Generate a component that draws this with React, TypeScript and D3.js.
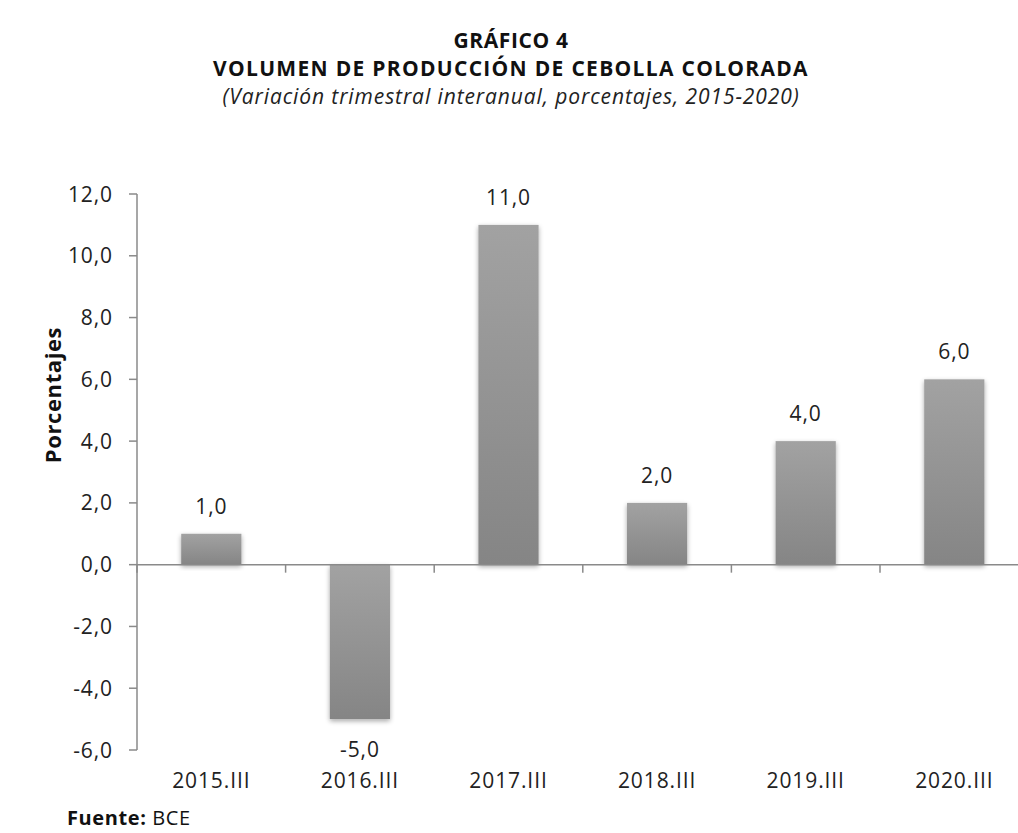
import React from "react";
import * as d3 from "d3";

const categories = ["2015.III", "2016.III", "2017.III", "2018.III", "2019.III", "2020.III"];
const values = [1.0, -5.0, 11.0, 2.0, 4.0, 6.0];
const yTicks = [-6, -4, -2, 0, 2, 4, 6, 8, 10, 12];

const W = 1018;
const H = 833;
const FONT = "'Open Sans', 'Liberation Sans', sans-serif";

export default function App() {
  const x0 = 137;
  const bandW = 148.6;
  const x = d3
    .scaleBand<string>()
    .domain(categories)
    .range([x0, x0 + bandW * categories.length])
    .paddingInner(0.595)
    .paddingOuter(0.2975);
  const y = d3.scaleLinear().domain([-6, 12]).range([750, 194]);
  const fmt = (v: number) => v.toFixed(1).replace(".", ",");
  const bw = x.bandwidth();
  const numStyle = { fontSize: 21, letterSpacing: 0.9 };

  return (
    <svg
      width={W}
      height={H}
      style={{ position: "absolute", left: 0, top: 0, background: "#fff" }}
      fontFamily={FONT}
    >
      <defs>
        <linearGradient id="barGrad" x1="0" y1="0" x2="0" y2="1">
          <stop offset="0%" stopColor="#a2a2a2" />
          <stop offset="100%" stopColor="#858585" />
        </linearGradient>
        <filter id="shadow" x="-20%" y="-20%" width="140%" height="140%">
          <feGaussianBlur in="SourceAlpha" stdDeviation="2.5" />
          <feOffset dx="0" dy="2" result="b" />
          <feComponentTransfer>
            <feFuncA type="linear" slope="0.35" />
          </feComponentTransfer>
          <feMerge>
            <feMergeNode />
            <feMergeNode in="SourceGraphic" />
          </feMerge>
        </filter>
      </defs>

      <rect x={0} y={0} width={W} height={H} fill="#fff" />

      {/* Titles */}
      <text x={511} y={48} textAnchor="middle" fontWeight="bold" fontSize={21} letterSpacing={0.6} fill="#111">
        GRÁFICO 4
      </text>
      <text x={511} y={76} textAnchor="middle" fontWeight="bold" fontSize={21} letterSpacing={1.3} fill="#111">
        VOLUMEN DE PRODUCCIÓN DE CEBOLLA COLORADA
      </text>
      <text x={511} y={104} textAnchor="middle" fontStyle="italic" fontSize={21} letterSpacing={0.9} fill="#222">
        (Variación trimestral interanual, porcentajes, 2015-2020)
      </text>

      {/* Y axis */}
      <line x1={x0} x2={x0} y1={y(12)} y2={y(-6)} stroke="#8a8a8a" strokeWidth={1.5} />
      {yTicks.map((t) => (
        <g key={t}>
          <line x1={x0 - 8} x2={x0} y1={y(t)} y2={y(t)} stroke="#8a8a8a" strokeWidth={1.5} />
          <text x={113} y={y(t)} dy="0.36em" textAnchor="end" {...numStyle} fill="#222">
            {fmt(t)}
          </text>
        </g>
      ))}
      <text
        transform={`translate(61, ${395}) rotate(-90)`}
        textAnchor="middle"
        fontWeight="bold"
        fontSize={22}
        letterSpacing={0.6}
        fill="#111"
      >
        Porcentajes
      </text>

      {/* Bars */}
      {categories.map((c, i) => {
        const v = values[i];
        const top = y(Math.max(0, v));
        const h = Math.abs(y(v) - y(0));
        return (
          <rect
            key={c}
            x={x(c)}
            y={top}
            width={bw}
            height={h}
            fill="url(#barGrad)"
            filter="url(#shadow)"
          />
        );
      })}

      {/* X axis */}
      <line x1={x0} x2={W} y1={y(0)} y2={y(0)} stroke="#8a8a8a" strokeWidth={1.5} />
      {categories.map((c, i) => (
        <line
          key={c}
          x1={x0 + bandW * i}
          x2={x0 + bandW * i}
          y1={y(0)}
          y2={y(0) + 8}
          stroke="#8a8a8a"
          strokeWidth={1.5}
        />
      ))}

      {/* Data labels */}
      {categories.map((c, i) => {
        const v = values[i];
        const cx = (x(c) ?? 0) + bw / 2;
        const ly = v >= 0 ? y(v) - 20 : y(v) + 38;
        return (
          <text key={c} x={cx} y={ly} textAnchor="middle" {...numStyle} fill="#222">
            {fmt(v)}
          </text>
        );
      })}

      {/* Category labels */}
      {categories.map((c) => (
        <text
          key={c}
          x={(x(c) ?? 0) + bw / 2}
          y={788}
          textAnchor="middle"
          {...numStyle}
          fill="#222"
        >
          {c}
        </text>
      ))}

      {/* Source */}
      <text x={67} y={825} fontSize={20} letterSpacing={0.6} fill="#111">
        <tspan fontWeight="bold">Fuente:</tspan>
        <tspan> BCE</tspan>
      </text>
    </svg>
  );
}
